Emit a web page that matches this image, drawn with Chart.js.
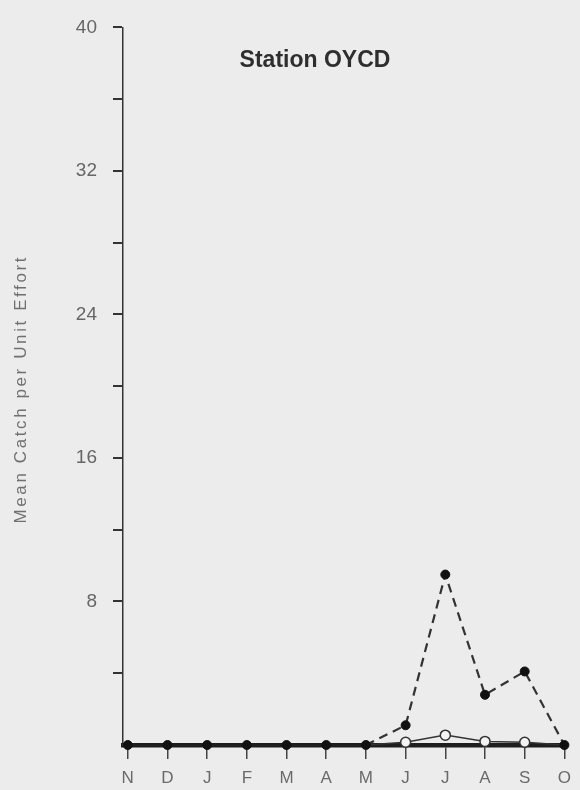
<!DOCTYPE html>
<html>
<head>
<meta charset="utf-8">
<script src="https://cdn.jsdelivr.net/npm/chart.js@4/dist/chart.umd.min.js"></script>
<style>
  html, body { margin: 0; padding: 0; background: #ececec; }
  #wrap { width: 580px; height: 790px; position: relative; }
  canvas { display: block; }
</style>
</head>
<body>
<div id="wrap"><canvas id="c" width="580" height="790"></canvas></div>
<script>
// Monthly sampling, November through October
const months = ['N', 'D', 'J', 'F', 'M', 'A', 'M', 'J', 'J', 'A', 'S', 'O'];
// Filled-circle series (dashed once catches begin)
const filledCatch = [0, 0, 0, 0, 0, 0, 0, 1.1, 9.5, 2.8, 4.1, 0];
// Open-circle series
const openCatch = [0, 0, 0, 0, 0, 0, 0, 0.15, 0.55, 0.2, 0.15, 0];
// Labelled y ticks; unlabelled minor ticks fall halfway between
const yTicks = [8, 16, 24, 32, 40];
const yMinorStep = 4;
const chartTitle = 'Station OYCD';
const yTitle = 'Mean Catch per Unit Effort';

const sans = '"Liberation Sans", Arial, Helvetica, sans-serif';

const toPoints = arr => arr.map((v, i) => ({ x: i, y: v }));

// Chart title inside the plot and the spaced-out rotated y-axis title
const textPlugin = {
  id: 'stationText',
  afterDraw(chart) {
    const ctx = chart.ctx;
    const area = chart.chartArea;
    ctx.save();
    ctx.fillStyle = '#2e2e2e';
    ctx.font = 'bold 23px ' + sans;
    ctx.textAlign = 'center';
    ctx.textBaseline = 'alphabetic';
    ctx.fillText(chartTitle, 315, 67);
    ctx.restore();

    ctx.save();
    ctx.fillStyle = '#707070';
    ctx.font = '17px ' + sans;
    if ('letterSpacing' in ctx) ctx.letterSpacing = '2.6px';
    ctx.translate(21, (area.top + area.bottom) / 2 + 3);
    ctx.rotate(-Math.PI / 2);
    ctx.textAlign = 'center';
    ctx.textBaseline = 'middle';
    ctx.fillText(yTitle, 0, 0);
    ctx.restore();
  }
};

new Chart(document.getElementById('c'), {
  type: 'line',
  data: {
    datasets: [
      {
        data: toPoints(filledCatch),
        borderColor: '#1e1e1e',
        borderWidth: 3.5,
        pointRadius: 4.5,
        pointBackgroundColor: '#111',
        pointBorderColor: '#111',
        pointBorderWidth: 1,
        tension: 0,
        clip: false,
        segment: {
          borderDash: c => (c.p0DataIndex >= 6 ? [9, 6] : undefined),
          borderWidth: c => (c.p0DataIndex >= 6 ? 2.2 : 3.5),
          borderColor: c => (c.p0DataIndex >= 6 ? '#333' : '#1e1e1e')
        }
      },
      {
        data: toPoints(openCatch),
        borderColor: '#333',
        borderWidth: 1.5,
        pointRadius: c => (c.dataIndex >= 7 && c.dataIndex <= 10 ? 5 : 0),
        pointBackgroundColor: '#f4f4f4',
        pointBorderColor: '#333',
        pointBorderWidth: 1.5,
        tension: 0,
        clip: false
      }
    ]
  },
  options: {
    responsive: false,
    devicePixelRatio: 1,
    animation: false,
    events: [],
    layout: { padding: { top: 19, right: 12, left: 0, bottom: 0 } },
    plugins: { legend: { display: false }, tooltip: { enabled: false } },
    scales: {
      x: {
        type: 'linear',
        min: -0.12,
        max: months.length - 1,
        afterBuildTicks: s => { s.ticks = months.map((_, i) => ({ value: i })); },
        afterFit: s => { s.height = 45; },
        ticks: {
          callback: v => months[v] ?? '',
          font: { family: sans, size: 17 },
          color: '#6a6a6a',
          padding: 9,
          maxRotation: 0,
          autoSkip: false
        },
        grid: { drawOnChartArea: false, drawTicks: true, tickLength: 14, color: '#444', lineWidth: 1.5 },
        border: { display: true, color: '#1e1e1e', width: 4.5 }
      },
      y: {
        min: 0,
        max: 40,
        afterBuildTicks: s => {
          const t = [];
          for (let v = yMinorStep; v <= 40; v += yMinorStep) t.push({ value: v });
          s.ticks = t;
        },
        afterFit: s => { s.width = 123; },
        ticks: {
          callback: v => (yTicks.includes(v) ? String(v) : ''),
          font: { family: sans, size: 19 },
          color: '#666',
          padding: 16,
          autoSkip: false
        },
        grid: { drawOnChartArea: false, drawTicks: true, tickLength: 10, color: '#333', lineWidth: 2 },
        border: { display: true, color: '#333', width: 1.5 }
      }
    }
  },
  plugins: [textPlugin]
});
</script>
</body>
</html>
